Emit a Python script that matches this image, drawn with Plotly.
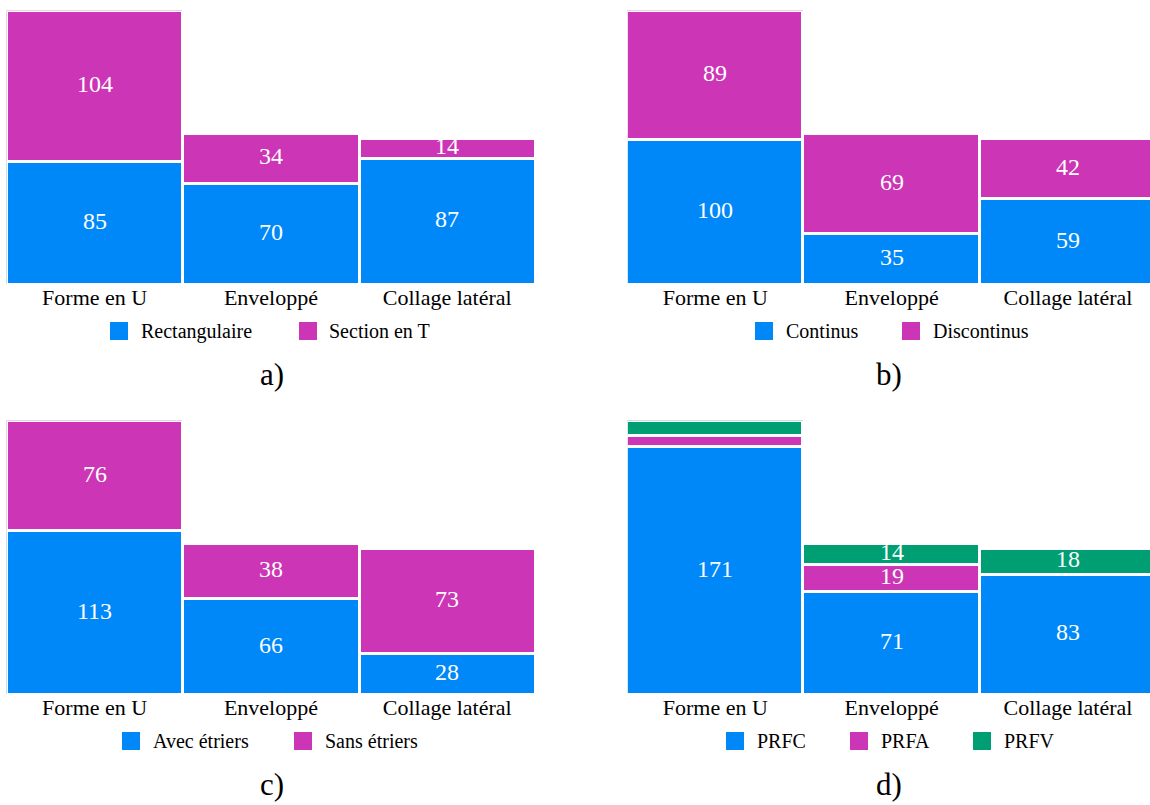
import plotly.graph_objects as go

W, H = 1150, 805
FONT = "Liberation Serif, Times New Roman, serif"

BLUE = "#0088F8"
MAGENTA = "#CC35B5"
GREEN = "#009E73"

categories = ["Forme en U", "Enveloppé", "Collage latéral"]

# a) section shape
rectangulaire = [85, 70, 87]
section_t = [104, 34, 14]
# b) anchorage continuity
continus = [100, 35, 59]
discontinus = [89, 69, 42]
# c) stirrups
avec_etriers = [113, 66, 28]
sans_etriers = [76, 38, 73]
# d) fibre type
prfc = [171, 71, 83]
prfa = [8, 19, 0]
prfv = [10, 14, 18]

panels = [
    ("a)", [("Rectangulaire", rectangulaire, BLUE), ("Section en T", section_t, MAGENTA)]),
    ("b)", [("Continus", continus, BLUE), ("Discontinus", discontinus, MAGENTA)]),
    ("c)", [("Avec étriers", avec_etriers, BLUE), ("Sans étriers", sans_etriers, MAGENTA)]),
    ("d)", [("PRFC", prfc, BLUE), ("PRFA", prfa, MAGENTA), ("PRFV", prfv, GREEN)]),
]

# segments smaller than this carry no value label
MIN_LABELLED = 12


def fx(px):
    return px / W


def fy(py):
    return 1 - py / H


# pixel geometry of the four plotting areas
CAT_W = 176.3
left_col = (6.5, 535.5)
right_col = (627.2, 1150.0)
top_row = (10.5, 284.5)
bottom_row = (420.5, 694.5)
areas = [
    (left_col, top_row),
    (right_col, top_row),
    (left_col, bottom_row),
    (right_col, bottom_row),
]

# legend layout per panel: (square left x, text left x) per item
legend_pos = [
    [(110, 141), (299, 329)],
    [(755, 786), (902, 933)],
    [(122, 153), (294, 325)],
    [(726, 757), (850, 881), (973, 1004)],
]

fig = go.Figure()
layout_axes = {}
shapes = []
annotations = []

for i, ((label, series), ((xl, xr), (yt, yb)), lpos) in enumerate(zip(panels, areas, legend_pos)):
    n = "" if i == 0 else str(i + 1)
    ymax = max(sum(vals) for vals in zip(*[s[1] for s in series]))
    base = [0] * len(categories)
    for name, vals, color in series:
        fig.add_trace(go.Bar(
            x=categories, y=vals, name=name,
            xaxis="x" + n, yaxis="y" + n,
            marker=dict(color=color, line=dict(color="white", width=3)),
            showlegend=False,
        ))
        # value labels centred in each stacked segment
        for c, v, b in zip(categories, vals, base):
            if v >= MIN_LABELLED:
                annotations.append(dict(
                    xref="x" + n, yref="y" + n, x=c, y=b + v / 2,
                    xanchor="center", yanchor="middle", yshift=2,
                    showarrow=False, text=str(v),
                    font=dict(family=FONT, size=24, color="white"),
                ))
        base = [b + v for b, v in zip(base, vals)]
    x_end = -0.5 + (xr - xl) / CAT_W
    layout_axes["xaxis" + n] = dict(
        domain=[fx(xl), fx(xr)], anchor="y" + n, range=[-0.5, x_end],
        showgrid=False, zeroline=False, showline=False, ticks="",
        ticklabelstandoff=-3,
        tickfont=dict(family=FONT, size=22, color="black"), fixedrange=True,
    )
    layout_axes["yaxis" + n] = dict(
        domain=[fy(yb), fy(yt)], anchor="x" + n, range=[0, ymax],
        visible=False, fixedrange=True,
    )

    # legend: coloured squares with labels below the category names
    cy = yt + 320.5
    for (sx, tx), (name, vals, color) in zip(lpos, series):
        shapes.append(dict(
            type="rect", xref="paper", yref="paper",
            x0=fx(sx), x1=fx(sx + 18), y0=fy(cy + 9), y1=fy(cy - 9),
            fillcolor=color, line=dict(width=0),
        ))
        annotations.append(dict(
            xref="paper", yref="paper", x=fx(tx - 2), y=fy(cy),
            xanchor="left", yanchor="middle", showarrow=False, text=name,
            font=dict(family=FONT, size=20, color="black"),
        ))

    # panel letter
    annotations.append(dict(
        xref="paper", yref="paper", x=fx((xl + min(xr, 1155)) / 2 + 0.5), y=fy(yt + 364),
        xanchor="center", yanchor="middle", showarrow=False, text=label,
        font=dict(family=FONT, size=31, color="black"),
    ))

fig.update_layout(
    width=W, height=H,
    margin=dict(l=0, r=0, t=0, b=0),
    paper_bgcolor="white", plot_bgcolor="white",
    barmode="stack", bargap=0,
    showlegend=False,
    shapes=shapes, annotations=annotations,
    **layout_axes,
)

fig.write_html("out.html")
